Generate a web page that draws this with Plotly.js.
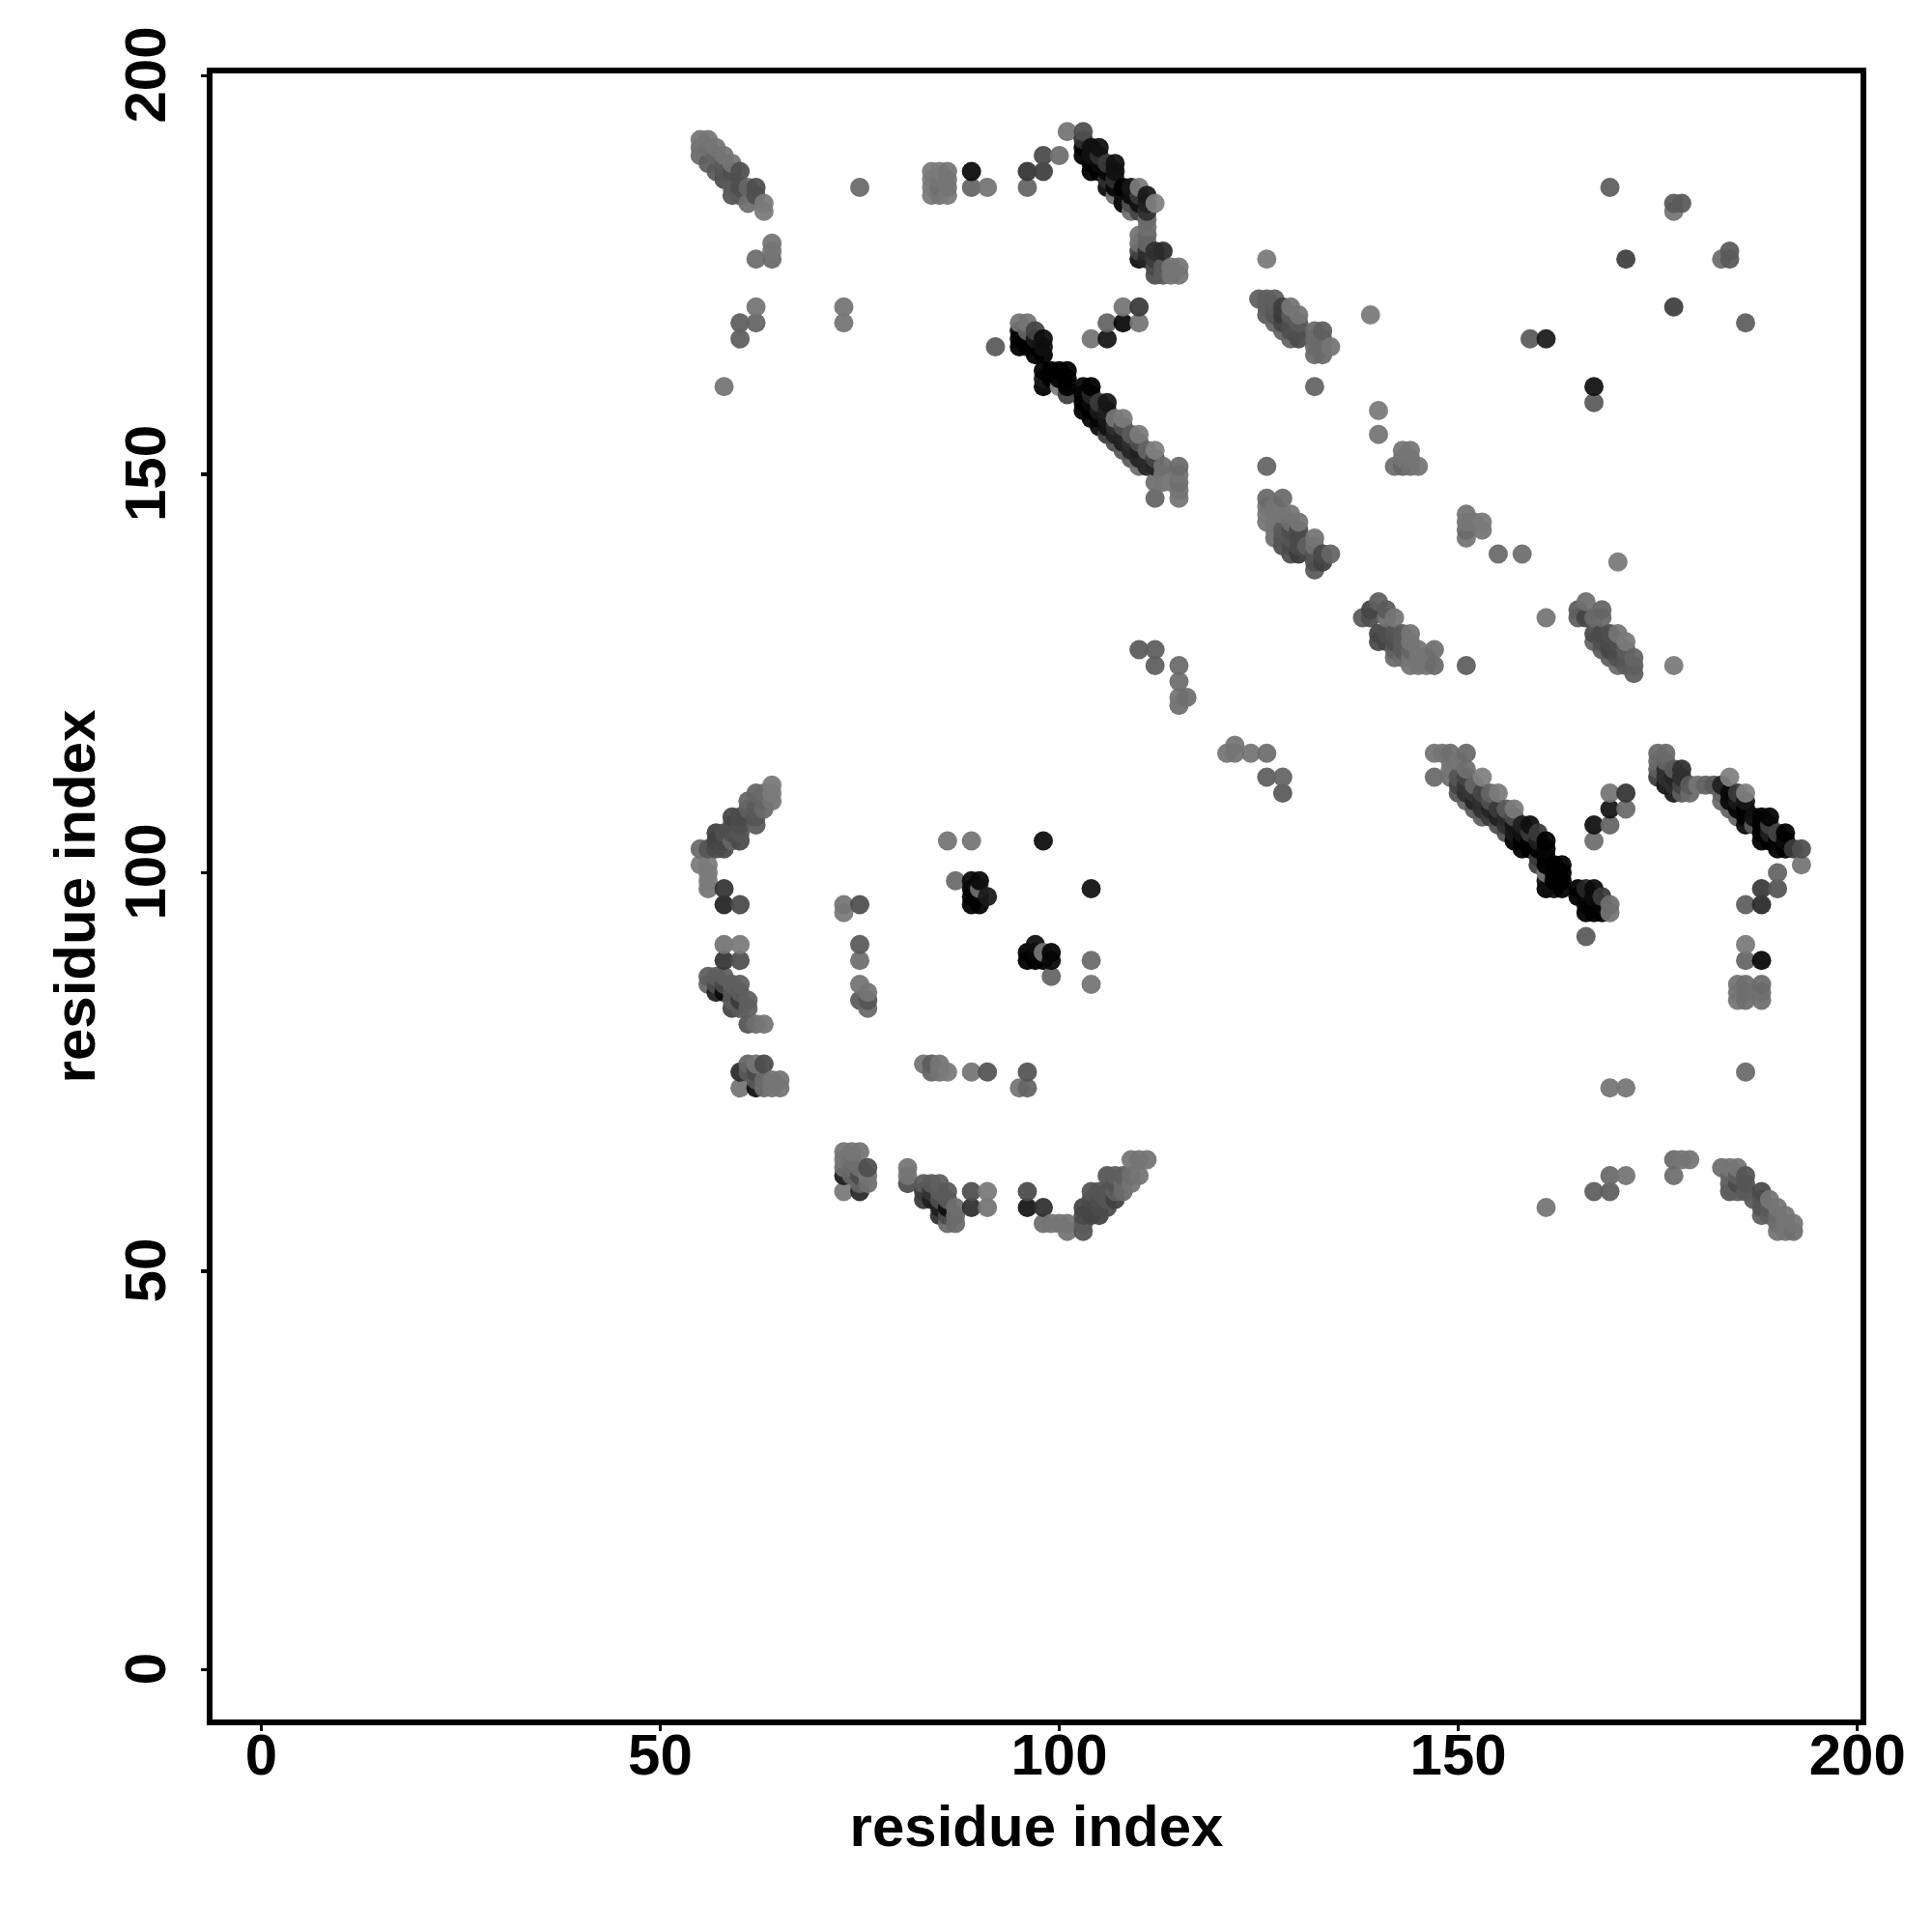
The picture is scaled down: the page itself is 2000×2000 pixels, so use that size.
<!DOCTYPE html>
<html>
<head>
<meta charset="utf-8">
<script src="https://cdn.plot.ly/plotly-3.0.1.min.js"></script>
<style>html,body{margin:0;padding:0;background:#fff}</style>
</head>
<body>
<div id="chart" style="width:2000px;height:2000px"></div>
<script>
// Each row list: [residue x, residue y, grey level as seen]
const clusterTopLeft = [[55,192,125],[56,192,125],[55,191,122],[55,190,115],[56,191,120],[57,191,125],[58,190,125],[59,189,125],[60,188,90],[57,188,100],[56,189,105],[57,190,110],[58,189,100],[58,188,95],[59,188,90],[58,187,90],[59,186,100],[59,185,95],[60,186,90],[61,186,110],[62,186,90],[60,185,100],[62,185,90],[61,184,120],[63,184,130],[63,183,130],[64,179,125],[64,178,125],[64,177,115],[62,177,118],[62,171,125],[62,169,110],[60,169,105],[60,167,105],[58,161,125],[73,171,125],[73,169,125],[75,186,115]];
const clusterTopMiddle = [[84,188,130],[85,188,130],[86,188,125],[84,187,130],[85,187,125],[86,187,125],[84,186,130],[85,186,120],[86,186,125],[84,185,130],[85,185,125],[86,185,130],[89,188,26],[89,186,110],[91,186,125],[96,188,65],[96,186,110],[98,188,75],[98,190,85],[100,190,120],[101,193,125],[103,193,90]];
const bandUpperA = [[103,192,60],[103,191,15],[103,190,10],[104,191,30],[105,191,30],[104,190,30],[104,189,15],[104,188,10],[105,190,60],[105,189,25],[105,188,15],[106,189,70],[106,188,20],[107,189,30],[107,188,30],[106,187,60],[106,186,25],[107,187,60],[107,186,20],[108,186,15],[107,185,120],[108,185,30],[108,184,15],[109,186,35],[109,185,25],[109,184,90],[109,183,120],[110,186,130],[110,185,70],[110,184,30],[110,183,80],[111,185,40],[111,184,45],[112,184,135],[111,183,60],[111,182,115],[111,181,120],[111,180,110],[110,180,125],[110,179,120],[110,178,80],[110,177,30],[111,179,110],[111,178,60],[111,177,50],[112,178,60],[113,178,55],[112,177,70],[112,176,85],[112,175,90],[113,176,100],[113,175,100],[114,176,125],[115,176,125],[114,175,125],[115,175,125]];
const bandUpperB = [[92,166,100],[95,169,125],[96,169,125],[95,168,20],[95,167,10],[95,166,8],[96,168,110],[96,167,15],[96,166,10],[97,168,80],[97,167,40],[98,167,28],[97,166,15],[98,166,30],[97,165,10],[98,165,10],[98,163,6],[99,163,6],[100,163,6],[101,163,6],[98,162,40],[98,161,6],[100,161,135],[99,162,10],[100,162,6],[101,162,6],[101,161,8],[101,160,75],[103,161,20],[104,161,6],[103,160,15],[103,159,15],[103,158,15],[104,160,50],[104,159,25],[104,158,15],[104,157,20],[105,159,70],[105,158,40],[105,157,20],[105,156,25],[106,159,35],[106,158,45],[106,157,40],[106,156,30],[106,155,70],[107,157,125],[107,156,60],[107,155,45],[107,154,90],[108,157,130],[108,156,90],[108,155,50],[108,154,45],[108,153,100],[109,155,100],[109,154,60],[109,153,50],[109,152,100],[110,155,130],[110,154,90],[110,153,45],[110,152,50],[110,151,120],[111,153,110],[111,152,55],[111,151,50],[112,153,135],[112,152,80],[112,151,50],[113,151,120],[115,151,115],[112,149,120],[113,149,125],[114,149,130],[115,149,120],[113,150,125],[115,150,125],[112,147,110],[115,148,125],[115,147,125]];
const armUpper = [[104,167,125],[106,167,35],[106,169,110],[108,169,25],[110,169,125],[108,171,125],[110,171,70]];
const bandUpperC = [[126,177,130],[125,172,105],[126,172,105],[127,172,105],[126,171,105],[126,170,100],[127,171,100],[127,170,95],[129,171,125],[130,170,125],[128,171,75],[128,170,70],[128,169,80],[127,169,110],[129,170,100],[129,169,90],[129,168,90],[128,168,110],[129,167,110],[130,169,100],[130,168,90],[130,167,85],[132,168,115],[133,168,105],[132,167,115],[133,167,115],[132,166,115],[133,166,115],[134,166,125],[132,165,115],[133,165,115],[139,170,130],[132,161,110]];
const clusterMiddleRight = [[159,167,100],[161,167,42],[169,186,105],[177,183,125],[177,184,100],[178,184,100],[171,177,75],[183,177,120],[184,178,100],[184,177,100],[177,171,75],[186,169,105],[167,161,32],[167,159,100],[140,158,130],[140,155,125],[143,153,125],[144,153,125],[143,152,125],[144,152,125],[142,151,120],[143,151,110],[144,151,120],[145,151,125],[126,151,110]];
const bandMiddleA = [[126,147,115],[128,147,115],[126,146,125],[126,145,130],[127,146,125],[126,144,125],[127,144,125],[127,143,125],[128,145,125],[129,145,125],[129,144,120],[130,144,125],[128,143,100],[129,143,90],[130,143,85],[127,142,120],[128,142,95],[129,142,95],[130,142,85],[128,141,90],[129,141,85],[130,141,85],[129,140,90],[130,140,70],[132,142,125],[132,141,120],[131,141,105],[132,140,95],[133,140,85],[134,140,110],[132,139,90],[133,139,75],[132,138,100],[151,145,125],[151,144,125],[152,144,125],[153,144,130],[151,143,115],[153,143,125],[151,142,125],[155,140,115],[158,140,120],[170,139,130]];
const bandMiddleB = [[140,134,105],[139,133,80],[138,132,100],[139,132,90],[141,133,100],[141,132,120],[142,132,125],[140,130,80],[141,130,90],[142,130,95],[143,130,100],[144,130,125],[140,129,85],[141,129,80],[142,129,90],[143,129,100],[144,129,125],[142,128,105],[143,128,100],[144,128,110],[145,128,125],[147,128,120],[142,127,115],[143,127,115],[144,127,125],[145,127,125],[146,127,125],[144,126,125],[145,126,125],[146,126,125],[147,126,115],[151,126,105],[161,132,125]];
const bandMiddleC = [[166,134,120],[165,133,105],[168,133,110],[165,132,105],[167,132,115],[166,132,80],[168,132,115],[167,130,85],[168,130,85],[169,130,90],[170,130,125],[167,129,110],[168,129,90],[169,129,85],[170,129,90],[171,129,130],[168,128,100],[169,128,80],[170,128,85],[171,128,100],[169,127,105],[170,127,90],[171,127,95],[172,127,110],[170,126,115],[171,126,100],[172,126,105],[172,125,105],[177,126,130]];
const clusterCentre = [[110,128,100],[112,128,105],[112,126,105],[115,126,115],[115,124,120],[115,122,125],[115,121,120],[116,122,120],[121,115,125],[122,116,125],[122,115,125],[124,115,125],[126,115,120],[126,112,105],[128,112,110],[128,110,100]];
const bandLowerA = [[147,115,125],[148,115,125],[149,115,120],[151,115,115],[149,114,125],[150,114,125],[149,113,125],[151,113,120],[147,112,115],[149,112,120],[150,112,95],[151,112,80],[150,111,80],[151,111,65],[152,111,110],[153,112,135],[150,110,95],[151,110,60],[152,110,65],[153,110,80],[154,110,110],[155,110,130],[151,109,110],[152,109,50],[153,109,60],[154,109,90],[152,108,100],[153,108,60],[154,108,50],[155,108,70],[156,108,100],[157,108,130],[153,107,105],[154,107,70],[155,107,45],[156,107,55],[157,107,85],[155,106,90],[156,106,60],[157,106,35],[158,106,45],[159,106,28],[156,105,90],[157,105,40],[158,105,30],[159,105,70],[160,105,70],[157,104,15],[158,104,15],[159,104,15],[160,104,45],[161,104,6],[158,103,10],[159,103,15],[160,103,15],[161,103,20],[160,102,70],[160,101,75],[161,101,6],[162,101,6],[163,101,6],[161,102,10],[161,100,125],[162,100,15],[163,100,6],[161,99,30],[162,99,10],[163,99,6],[161,98,6],[162,98,30],[163,98,6],[165,98,6],[166,98,50],[167,98,25],[165,97,6],[166,97,20],[167,97,25],[168,97,70],[166,96,6],[167,96,6],[168,96,20],[169,96,120],[166,95,6],[167,95,6],[168,95,10],[169,95,125],[166,92,100]];
const armLower = [[169,110,125],[171,110,65],[169,108,35],[171,108,115],[167,106,30],[169,106,110],[167,104,120]];
const bandLowerB = [[175,115,115],[176,115,115],[175,114,115],[176,114,110],[175,113,105],[176,113,60],[175,112,70],[176,112,60],[177,113,100],[178,113,60],[177,112,50],[178,112,60],[176,111,35],[177,111,60],[178,111,80],[179,111,100],[180,111,125],[181,111,110],[182,111,100],[177,110,40],[178,110,105],[179,110,115],[183,111,45],[184,112,135],[183,110,110],[184,110,25],[185,110,70],[186,110,135],[183,109,115],[184,109,25],[185,109,40],[186,109,35],[184,108,110],[185,108,20],[186,108,10],[185,107,110],[186,107,15],[186,106,25],[187,107,30],[188,107,18],[189,107,18],[187,106,100],[188,106,15],[189,106,75],[188,105,12],[189,105,45],[190,105,80],[191,105,16],[188,104,15],[189,104,12],[190,104,20],[191,104,25],[190,103,10],[191,103,10],[192,103,70],[193,103,90],[193,101,125],[190,100,110],[188,98,70],[190,98,95],[186,96,105],[188,96,55],[186,91,130],[186,89,110],[188,89,22],[185,86,125],[186,86,120],[188,86,115],[185,85,125],[186,85,120],[188,85,120],[185,84,125],[186,84,120],[188,84,120],[186,75,115]];
const clusterLowerRight = [[169,73,125],[171,73,125],[177,64,115],[178,64,125],[179,64,125],[177,62,120],[169,62,115],[171,62,125],[167,60,105],[169,60,105],[161,58,125],[183,63,120],[184,63,125],[185,63,125],[184,62,110],[185,62,105],[186,62,95],[184,61,105],[185,61,85],[186,61,95],[184,60,95],[185,60,105],[186,60,100],[188,60,85],[187,59,100],[188,59,95],[189,59,125],[188,58,95],[189,58,100],[190,58,125],[188,57,105],[189,57,105],[190,57,115],[191,57,125],[190,56,120],[191,56,125],[192,56,125],[190,55,125],[191,55,125],[192,55,120]];
const armLeft = [[64,111,130],[64,110,130],[64,109,125],[63,110,115],[62,110,110],[63,109,110],[61,109,110],[61,108,105],[62,108,100],[63,108,115],[61,107,85],[62,107,95],[62,106,100],[59,107,80],[60,107,85],[59,106,90],[60,106,90],[60,105,95],[60,104,85],[59,105,90],[59,104,110],[57,105,75],[58,105,90],[57,104,80],[58,104,80],[56,103,95],[55,103,115],[57,103,85],[58,103,85],[55,101,130],[56,101,130],[56,100,130],[56,99,130],[56,98,125],[58,98,65],[58,96,50],[60,96,85]];
const armLeftColumn = [[73,96,125],[75,96,90],[73,95,130],[75,91,100],[75,89,120],[75,86,125],[76,85,125],[75,84,100],[76,84,95],[76,83,115],[58,91,125],[60,91,130],[58,89,65],[60,89,90]];
const clusterLeftLower = [[56,87,105],[57,87,105],[58,87,105],[56,86,110],[57,86,90],[58,86,85],[59,86,105],[60,86,105],[57,85,45],[58,85,25],[59,85,95],[60,85,100],[59,84,100],[60,84,70],[61,84,105],[59,83,80],[60,83,100],[61,83,105],[61,81,95],[62,81,120],[63,81,125]];
const clusterLeftBottom = [[60,75,55],[61,76,110],[61,75,100],[62,76,125],[62,75,85],[63,76,85],[60,73,125],[62,73,30],[62,74,100],[63,74,115],[64,74,125],[65,74,125],[63,73,120],[64,73,125],[65,73,125]];
const clusterMiddleTop = [[86,104,125],[89,104,125],[98,104,28],[104,98,32],[87,99,115],[89,99,25],[90,99,25],[89,98,10],[90,98,120],[91,97,40],[89,97,8],[90,97,12],[89,96,6],[90,96,8],[97,91,28],[96,90,6],[96,89,6],[97,90,20],[97,89,6],[98,90,125],[98,89,8],[99,90,20],[99,89,25],[99,87,110],[104,89,115],[104,86,125]];
const clusterMiddleBottom = [[83,76,125],[84,76,105],[85,76,125],[84,75,110],[85,75,125],[86,75,130],[89,75,125],[91,75,95],[96,75,95],[95,73,125],[96,73,110]];
const bandBottomA = [[73,65,125],[74,65,125],[75,65,125],[73,64,125],[74,64,120],[73,63,120],[74,63,115],[75,63,120],[76,63,90],[73,62,40],[74,62,110],[75,62,85],[76,62,125],[75,61,110],[76,61,120],[73,60,130],[75,60,55],[81,63,125],[81,62,125],[81,61,90]];
const bandBottomB = [[83,61,100],[84,61,100],[85,61,105],[83,60,70],[84,60,65],[85,60,100],[86,60,100],[83,59,70],[84,59,45],[85,59,90],[86,59,100],[85,58,45],[86,58,30],[87,58,120],[85,57,60],[86,57,85],[87,57,115],[86,56,115],[87,56,115],[89,60,90],[91,60,130],[89,58,60],[91,58,125],[96,60,85],[96,58,36],[98,58,60]];
const bandBottomC = [[98,56,120],[99,56,125],[100,56,125],[101,56,125],[101,55,125],[103,58,80],[103,57,85],[103,56,100],[103,55,95],[104,60,95],[104,59,85],[104,58,80],[104,57,80],[105,60,95],[105,59,90],[105,58,85],[105,57,80],[106,60,95],[106,59,95],[106,58,85],[106,62,95],[107,62,105],[107,61,95],[107,60,105],[107,59,75],[108,62,105],[108,61,115],[108,60,115],[109,62,120],[109,61,125],[109,64,125],[110,64,125],[111,64,125],[110,62,125]];

const residuePairs = [clusterTopLeft, clusterTopMiddle, bandUpperA, bandUpperB, armUpper, bandUpperC, clusterMiddleRight, bandMiddleA, bandMiddleB, bandMiddleC, clusterCentre, bandLowerA, armLower, bandLowerB, clusterLowerRight, armLeft, armLeftColumn, clusterLeftLower, clusterLeftBottom, clusterMiddleTop, clusterMiddleBottom, bandBottomA, bandBottomB, bandBottomC]
  .flat().sort((a, b) => a[0] - b[0] || a[1] - b[1]);

const tickValues = [0, 50, 100, 150, 200];
const tickLabels = ['0', '50', '100', '150', '200'];
const axisTitle = 'residue index';

const fontFamily = '"Liberation Sans", Arial, sans-serif';
const markerAlpha = 0.94;
const toColor = s => { const g = Math.max(0, Math.round((s - 255 * (1 - markerAlpha)) / markerAlpha)); return `rgba(${g},${g},${g},${markerAlpha})`; };

const axisBase = {
  showgrid: false, zeroline: false, showline: true, mirror: true,
  linecolor: '#000', linewidth: 6, ticks: 'outside', ticklen: 6, tickwidth: 3.5, tickcolor: '#000',
  tickmode: 'array', tickvals: tickValues, ticktext: tickLabels,
  tickfont: {family: fontFamily, size: 60, color: '#000', weight: 700}
};

Plotly.newPlot('chart', [{
  type: 'scatter', mode: 'markers',
  x: residuePairs.map(p => p[0]),
  y: residuePairs.map(p => p[1]),
  marker: {size: 20, color: residuePairs.map(p => toColor(p[2])), line: {width: 0}},
  hoverinfo: 'x+y'
}], {
  width: 2000, height: 2000, showlegend: false,
  paper_bgcolor: '#fff', plot_bgcolor: '#fff',
  margin: {l: 220, r: 74.4, t: 75.7, b: 220, pad: 0},
  xaxis: Object.assign({}, axisBase, {
    range: [-6.1, 200.4], ticklabelstandoff: -27,
    title: {text: axisTitle, standoff: 11, font: {family: fontFamily, size: 60, color: '#000', weight: 700}}
  }),
  yaxis: Object.assign({}, axisBase, {
    range: [-6.24, 200.3], tickangle: -90, ticklabelstandoff: 13,
    title: {text: axisTitle, standoff: 1, font: {family: fontFamily, size: 60, color: '#000', weight: 700}}
  })
}, {staticPlot: true}).then(() => {
  document.querySelectorAll('.ytick text').forEach(t => {
    t.setAttribute('transform', 'translate(0,8) ' + (t.getAttribute('transform') || ''));
  });
  const xTitle = document.querySelector('.xtitle');
  if (xTitle) xTitle.setAttribute('transform', 'translate(0,7) ' + (xTitle.getAttribute('transform') || ''));
});
</script>
</body>
</html>
